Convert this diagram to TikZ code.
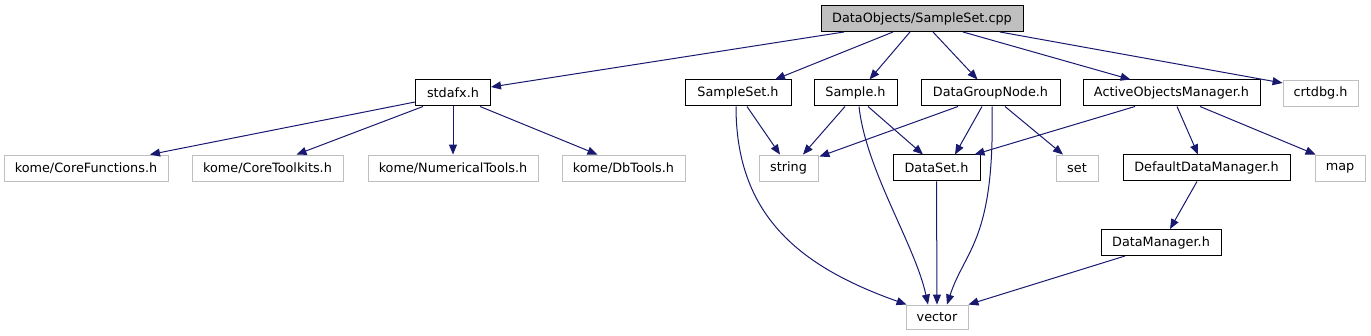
\documentclass[tikz,border=0pt]{standalone}
\usepackage{fontspec}
\setmainfont{DejaVu Sans}
\usetikzlibrary{arrows.meta,calc}
\definecolor{EdgeBlue}{HTML}{191970}
\definecolor{BoxGray} {HTML}{BFBFBF}
\tikzset{
  hbox/.style={rectangle,draw=black,line width=1pt,fill=white,
               font=\fontsize{12.8}{14}\selectfont,inner sep=0pt,
               minimum height=26pt,minimum width=#1},
  sysbox/.style={hbox=#1,draw=BoxGray,line width=0.9pt},
  rootbox/.style={hbox=#1,fill=BoxGray},
  dep/.style={-{Triangle[length=10pt,width=8pt]},line width=1pt,color=EdgeBlue},
}

\begin{document}
\begin{tikzpicture}[x=1pt,y=-1pt]
  \useasboundingbox (0,0) rectangle (1371,336);

  % file and its direct includes
  \node[rootbox=202pt] (root) at (922,18.5) {DataObjects/SampleSet.cpp};
  \node[hbox=75pt]   (stdafx)    at (453,93)    {stdafx.h};
  \node[hbox=106pt]  (sampleset) at (738,93)    {SampleSet.h};
  \node[hbox=83pt]   (sample)    at (855.5,93)  {Sample.h};
  \node[hbox=139pt]  (groupnode) at (990.5,93)  {DataGroupNode.h};
  \node[hbox=177pt]  (aomgr)     at (1171.5,93) {ActiveObjectsManager.h};
  \node[sysbox=75pt] (crtdbg)    at (1320.5,93) {crtdbg.h};

  % third row
  \node[sysbox=164pt] (corefn)  at (86,168)     {kome/CoreFunctions.h};
  \node[sysbox=151pt] (coretk)  at (267.5,168)  {kome/CoreToolkits.h};
  \node[sysbox=170pt] (numtool) at (453,168)    {kome/NumericalTools.h};
  \node[sysbox=123pt] (dbtool)  at (623.5,168)  {kome/DbTools.h};
  \node[sysbox=59pt]  (string)  at (788.5,168)  {string};
  \node[hbox=87pt]    (dataset) at (936.5,168)  {DataSet.h};
  \node[sysbox=42pt]  (set)     at (1077,168)   {set};
  \node[hbox=167pt]   (defmgr)  at (1206.5,168) {DefaultDataManager.h};
  \node[sysbox=50pt]  (map)     at (1340,168)   {map};

  \node[hbox=120pt]   (datamgr) at (1161,242.5) {DataManager.h};
  \node[sysbox=62pt,minimum height=24pt] (vector) at (937,317) {vector};

  \draw[dep] ($(root.south)+(-78,0)$) -- ($(stdafx.east)+(0,-6)$);
  \draw[dep] ($(root.south)+(-29,0)$) -- ($(sampleset.north)+(37,0)$);
  \draw[dep] ($(root.south)+(-12,0)$) -- ($(sample.north)+(14,0)$);
  \draw[dep] ($(root.south)+(11,0)$)  -- ($(groupnode.north)+(-13,0)$);
  \draw[dep] ($(root.south)+(41,0)$)  -- ($(aomgr.north)+(-41,0)$);
  \draw[dep] ($(root.south)+(78,0)$)  -- ($(crtdbg.west)+(0,-10)$);

  \draw[dep] ($(stdafx.west)+(0,9)$)     -- ($(corefn.north)+(64,0)$);
  \draw[dep] ($(stdafx.south)+(-30,0)$)  -- ($(coretk.north)+(29,0)$);
  \draw[dep] (stdafx.south) -- (numtool.north);
  \draw[dep] ($(stdafx.south)+(27,0)$)   -- ($(dbtool.north)+(-26,0)$);

  \draw[dep] ($(sampleset.south)+(9,0)$) -- ($(string.north)+(-8.5,0)$);
  \draw[dep] ($(sampleset.south)+(-2,0)$) .. controls +(0,109) and +(-107,-38) .. ($(vector.north west)+(1,0)$);

  \draw[dep] ($(sample.south)+(-10.5,0)$) -- ($(string.north)+(14.5,0)$);
  \draw[dep] ($(sample.south)+(12.5,0)$)  -- ($(dataset.north)+(-13.5,0)$);
  \draw[dep] ($(sample.south)+(3.5,0)$) .. controls +(7,64) and +(-13,-60) .. ($(vector.north)+(-9,0)$);

  \draw[dep] ($(groupnode.south)+(-32.5,0)$) -- ($(string.north east)+(1,2)$);
  \draw[dep] ($(groupnode.south)+(-8.5,0)$)  -- ($(dataset.north)+(18.5,0)$);
  \draw[dep] ($(groupnode.south)+(14.5,0)$)  -- ($(set.north)+(-14,0)$);
  \draw[dep] ($(groupnode.south)+(1.5,0)$) .. controls +(3,134) and +(18,-55) .. ($(vector.north)+(10,0)$);

  \draw[dep] ($(aomgr.south)+(-36.5,0)$) -- ($(dataset.north east)+(-6,0)$);
  \draw[dep] ($(aomgr.south)+(5.5,0)$)   -- ($(defmgr.north)+(-8.5,0)$);
  \draw[dep] ($(aomgr.south)+(28.5,0)$)  -- ($(map.north west)+(1,0)$);

  \draw[dep] ($(defmgr.south)+(-9.5,0)$) -- ($(datamgr.north)+(9,0)$);
  \draw[dep] ($(datamgr.south)+(-36,0)$) -- (vector.north east);
  \draw[dep] (dataset.south) -- (vector.north);

\end{tikzpicture}
\end{document}
